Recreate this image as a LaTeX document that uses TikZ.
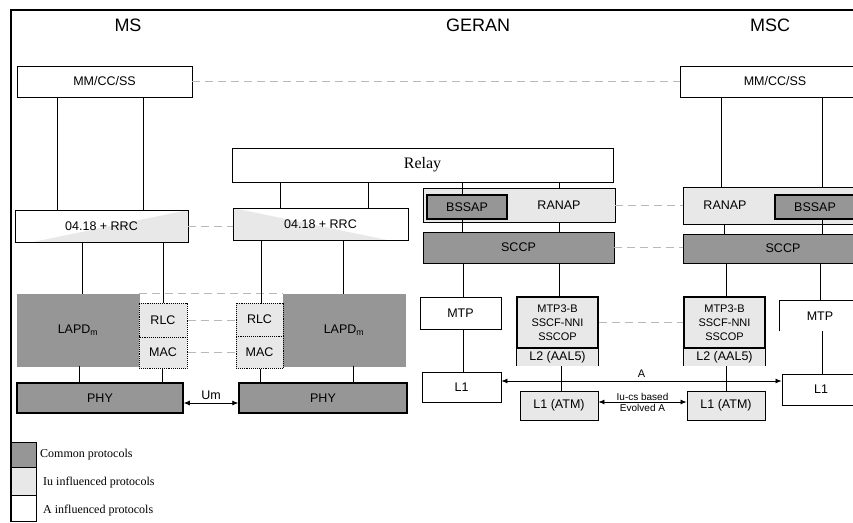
\documentclass[tikz,border=0pt]{standalone}
\usepackage{fontspec}
\setmainfont{Liberation Serif}
\setsansfont{Liberation Sans}
\usetikzlibrary{arrows.meta}
\definecolor{commongray}{RGB}{150,150,150}
\definecolor{iugray}{RGB}{232,232,232}
\definecolor{peergray}{RGB}{185,185,185}

\begin{document}
\begin{tikzpicture}[x=1pt, y=-1pt,
  dims/.style 2 args={minimum width=#1, minimum height=#2},
  layer/.style={draw, rectangle, inner sep=0pt, line width=0.9pt, font=\sffamily\fontsize{12.5}{14}\selectfont},
  common/.style={layer, fill=commongray},
  iu/.style={layer, fill=iugray},
  heavy/.style={line width=1.5pt},
  dotbox/.style={densely dotted, line width=1pt},
  rrcleft/.style={fill=white, path picture={\fill[iugray] ([xshift=18pt]path picture bounding box.south west) -- (path picture bounding box.north east) -- (path picture bounding box.south east) -- cycle;}},
  rrcright/.style={fill=white, path picture={\fill[iugray] (path picture bounding box.north west) -- (path picture bounding box.south west) -- ([xshift=-21pt]path picture bounding box.south east) -- cycle;}},
  peer/.style={draw=peergray, dash pattern=on 8pt off 5pt, line width=0.9pt},
  link/.style={line width=0.8pt},
  both/.style={link, {Latex[length=6pt,width=5pt]}-{Latex[length=6pt,width=5pt]}},
  title/.style={font=\sffamily\fontsize{18}{20}\selectfont},
  txt/.style={inner sep=0pt, font=\sffamily\fontsize{12.5}{14}\selectfont},
  legend/.style={anchor=west, inner sep=0pt, font=\rmfamily\fontsize{12}{14}\selectfont}
]
  \useasboundingbox (0,0) rectangle (853,522);
  \clip (0,0) rectangle (853,522);

  % Frame and titles
  \draw[line width=2pt] (11,522) -- (11,10) -- (853,10);
  \node[title] (msT) at (128,25) {MS};
  \node[title] (geranT) at (478,25) {GERAN};
  \node[title] (mscT) at (770,25) {MSC};

  % MS stack
  \node[layer, fill=white, dims={175}{31}] (mmL) at (104.5,81.5) {MM/CC/SS};
  \node[layer, rrcleft, dims={173}{32}] (rrcL) at (101.5,226) {04.18 + RRC};
  \node[common, draw=commongray, dims={122}{72}] (lapdL) at (78,330) {LAPD\textsubscript{m}};
  \node[iu, dotbox, dims={48}{34}] (rlcL) at (163,320) {RLC};
  \node[iu, dotbox, dims={48}{31}] (macL) at (163,352.5) {MAC};
  \node[common, heavy, dims={166}{30}] (phyL) at (100,398) {PHY};

  % GERAN stack
  \node[layer, fill=white, dims={381}{34}, font=\rmfamily\fontsize{16}{18}\selectfont] (relay) at (422.5,165) {Relay};
  \node[layer, rrcright, dims={175}{32}] (rrcR) at (320.5,224) {04.18 + RRC};
  \node[common, draw=commongray, dims={122}{72}] (lapdR) at (344,330) {LAPD\textsubscript{m}};
  \node[iu, dotbox, dims={47}{33}] (rlcR) at (259.5,319.5) {RLC};
  \node[iu, dotbox, dims={47}{32}] (macR) at (259.5,352) {MAC};
  \node[common, heavy, dims={168}{30}] (phyR) at (323,398) {PHY};

  \node[iu, dims={192}{34}] (ranapG) at (519,205) {};
  \node[txt] (ranapGt) at (559,205) {RANAP};
  \node[common, line width=2pt, dims={80}{24}] (bssapG) at (467,207) {BSSAP};
  \node[common, dims={191}{31}] (sccpG) at (518.5,247.5) {SCCP};
  \node[layer, fill=white, dims={81}{32}] (mtpG) at (460.5,313) {MTP};
  \node[layer, fill=white, dims={79}{30}] (l1G) at (461.5,387) {L1};
  \node[iu, heavy, dims={81}{51}, align=center, font=\sffamily\fontsize{11}{14}\selectfont] (mtp3G) at (557.5,322.5) {MTP3-B\\SSCF-NNI\\SSCOP};
  \node[iu, draw=none, dims={81}{17}] (aalG) at (557.5,357.5) {L2 (AAL5)};
  \draw[heavy] (aalG.south west) -- (aalG.north west) -- (aalG.north east) -- (aalG.south east);
  \node[iu, dims={78}{29}] (atmG) at (559,405.5) {L1 (ATM)};

  % MSC stack
  \node[layer, fill=white, dims={190}{31}] (mmR) at (775,81.5) {MM/CC/SS};
  \node[iu, dims={197}{37}] (ranapM) at (781.5,205.5) {};
  \node[txt] (ranapMt) at (725,205) {RANAP};
  \node[common, line width=1.5pt, dims={80}{24}] (bssapM) at (815,207) {BSSAP};
  \node[common, dims={200}{29}] (sccpM) at (783,248.5) {SCCP};
  \node[iu, heavy, dims={81}{51}, align=center, font=\sffamily\fontsize{11}{14}\selectfont] (mtp3M) at (724.5,322.5) {MTP3-B\\SSCF-NNI\\SSCOP};
  \node[iu, draw=none, dims={81}{17}] (aalM) at (724.5,357.5) {L2 (AAL5)};
  \draw[heavy] (aalM.south west) -- (aalM.north west) -- (aalM.north east) -- (aalM.south east);
  \node[iu, dims={78}{29}] (atmM) at (726,405.5) {L1 (ATM)};
  \node[layer, draw=none, fill=white, dims={80}{30}] (mtpM) at (820,316) {MTP};
  \draw[link] (mtpM.south west) -- (mtpM.north west) -- (mtpM.north east);
  \node[layer, fill=white, dims={78}{31}] (l1M) at (821,389.5) {L1};

  % Peer links
  \draw[peer] (mmL.east) -- (mmL.east -| mmR.west);
  \draw[peer] (rrcL.east) -- (rrcL.east -| rrcR.west);
  \draw[peer] (lapdL.north east) -- (lapdR.north west);
  \draw[peer] (rlcL.east) -- (rlcL.east -| rlcR.west);
  \draw[peer] (macL.east) -- (macL.east -| macR.west);
  \draw[peer] (ranapG.east) -- (ranapG.east -| ranapM.west);
  \draw[peer] (sccpG.east) -- (sccpG.east -| sccpM.west);
  \draw[peer] (mtp3G.east) -- (mtp3G.east -| mtp3M.west);

  % Connectors
  \draw[link] (57,0 |- mmL.south) -- (57,0 |- rrcL.north);
  \draw[link] (143,0 |- mmL.south) -- (143,0 |- rrcL.north);
  \draw[link] (82,0 |- rrcL.south) -- (82,0 |- lapdL.north);
  \draw[link] (163,0 |- rrcL.south) -- (163,0 |- rlcL.north);
  \draw[link] (79,0 |- lapdL.south) -- (79,0 |- phyL.north);
  \draw[link] (162,0 |- macL.south) -- (162,0 |- phyL.north);
  \draw[link] (280,0 |- relay.south) -- (280,0 |- rrcR.north);
  \draw[link] (368,0 |- relay.south) -- (368,0 |- rrcR.north);
  \draw[link] (261,0 |- rrcR.south) -- (261,0 |- rlcR.north);
  \draw[link] (343,0 |- rrcR.south) -- (343,0 |- lapdR.north);
  \draw[link] (260,0 |- macR.south) -- (260,0 |- phyR.north);
  \draw[link] (353,0 |- lapdR.south) -- (353,0 |- phyR.north);
  \draw[link] (462,0 |- relay.south) -- (462,0 |- bssapG.north);
  \draw[link] (462,0 |- bssapG.south) -- (462,0 |- sccpG.north);
  \draw[link] (559,0 |- relay.south) -- (559,0 |- ranapG.north);
  \draw[link] (559,0 |- ranapG.south) -- (559,0 |- sccpG.north);
  \draw[link] (463,0 |- sccpG.south) -- (463,0 |- mtpG.north);
  \draw[link] (463,0 |- mtpG.south) -- (463,0 |- l1G.north);
  \draw[link] (559,0 |- sccpG.south) -- (559,0 |- mtp3G.north);
  \draw[link] (561,0 |- aalG.south) -- (561,0 |- atmG.north);
  \draw[link] (721,0 |- mmR.south) -- (721,0 |- ranapM.north);
  \draw[link] (822,0 |- mmR.south) -- (822,0 |- ranapM.north);
  \draw[link] (724,0 |- ranapM.south) -- (724,0 |- sccpM.north);
  \draw[link] (822,0 |- bssapM.south) -- (822,0 |- sccpM.north);
  \draw[link] (726,0 |- sccpM.south) -- (726,0 |- mtp3M.north);
  \draw[link] (820,0 |- sccpM.south) -- (820,0 |- mtpM.north);
  \draw[link] (726,0 |- aalM.south) -- (726,0 |- atmM.north);
  \draw[link] (822,0 |- mtpM.south) -- (822,0 |- l1M.north);

  % Interfaces
  \draw[both] ([yshift=-5pt]phyL.east) -- node[txt, above=3pt] (umT) {Um} ([yshift=-5pt]phyR.west);
  \draw[both] ([yshift=6pt]l1G.east) -- node[txt, above=3pt, font=\sffamily\fontsize{11}{13}\selectfont] (aT) {A} ([yshift=8.5pt]l1M.west);
  \draw[both] ([yshift=3.5pt]atmG.east) --
    node[txt, above=1.5pt, font=\sffamily\fontsize{10}{11}\selectfont] (iuT) {Iu-cs based}
    node[txt, below=1.5pt, font=\sffamily\fontsize{10}{11}\selectfont] (evT) {Evolved A} ([yshift=3.5pt]atmM.west);

  % Legend
  \node[layer, fill=commongray, dims={25}{25}] (lgC) at (23.5,454.5) {};
  \node[layer, fill=iugray, dims={25}{28}] (lgIu) at (23.5,481) {};
  \node[layer, fill=white, dims={25}{26}] (lgA) at (23.5,508) {};
  \node[legend] (lgCt) at (40,455) {Common protocols};
  \node[legend] (lgIut) at (43,483) {Iu influenced protocols};
  \node[legend] (lgAt) at (43,511) {A influenced protocols};
\end{tikzpicture}
\end{document}
